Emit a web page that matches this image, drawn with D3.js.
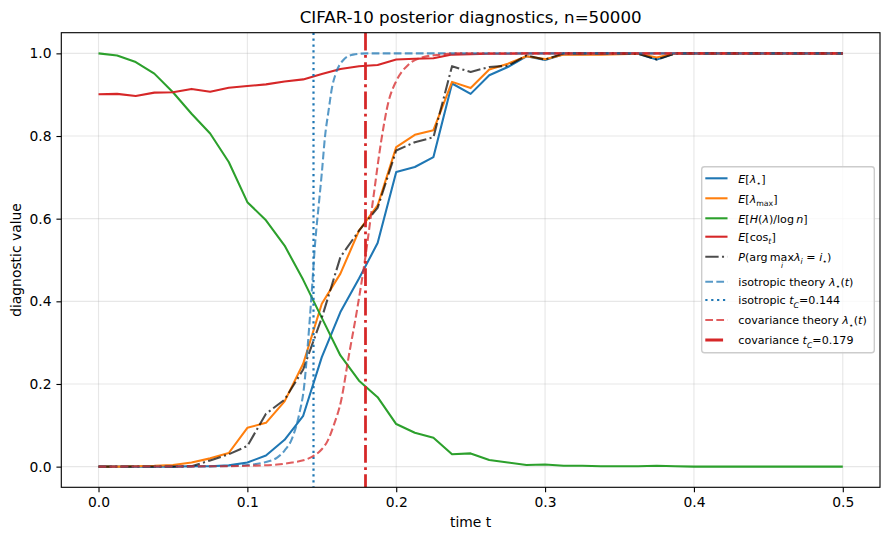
<!DOCTYPE html>
<html>
<head>
<meta charset="utf-8">
<script src="https://cdn.jsdelivr.net/npm/d3@7"></script>
<style>
  body { margin: 0; background: #fff; }
  svg { font-family: 'DejaVu Sans', sans-serif; display: block; }
</style>
</head>
<body>
<div id="chart"></div>
<script>
// sampled time grid
const times = [0, 0.0125, 0.025, 0.0375, 0.05, 0.0625, 0.075, 0.0875, 0.1, 0.1125,
  0.125, 0.1375, 0.15, 0.1625, 0.175, 0.1875, 0.2, 0.2125, 0.225, 0.2375,
  0.25, 0.2625, 0.275, 0.2875, 0.3, 0.3125, 0.325, 0.3375, 0.35, 0.3625,
  0.375, 0.3875, 0.4, 0.4125, 0.425, 0.4375, 0.45, 0.4625, 0.475, 0.4875, 0.5]

const lamStar = [0, 0, 0, 0, 0, 0.001, 0.001, 0.003, 0.01, 0.027,
  0.065, 0.123, 0.265, 0.374, 0.455, 0.541, 0.713, 0.725, 0.749, 0.927,
  0.902, 0.947, 0.967, 0.993, 0.984, 0.998, 0.998, 0.999, 0.999, 0.999,
  0.985, 1, 1, 1, 1, 1, 1, 1, 1, 1, 1]

const lamMax = [0, 0, 0.001, 0.002, 0.004, 0.01, 0.02, 0.033, 0.094, 0.106,
  0.158, 0.249, 0.394, 0.467, 0.571, 0.632, 0.773, 0.803, 0.814, 0.931,
  0.916, 0.961, 0.975, 0.993, 0.986, 0.997, 0.997, 0.997, 0.998, 0.999,
  0.99, 1, 1, 1, 1, 1, 1, 1, 1, 1, 1]

const entropyNorm = [1.0, 0.995, 0.979, 0.951, 0.906, 0.854, 0.806, 0.737, 0.64, 0.596,
  0.535, 0.452, 0.36, 0.269, 0.208, 0.168, 0.103, 0.082, 0.07, 0.03,
  0.032, 0.016, 0.01, 0.004, 0.005, 0.002, 0.002, 0.001, 0.001, 0.001,
  0.002, 0.001, 0, 0, 0, 0, 0, 0, 0, 0, 0]

const cosT = [0.901, 0.902, 0.897, 0.905, 0.906, 0.914, 0.907, 0.917, 0.921, 0.925,
  0.932, 0.937, 0.95, 0.962, 0.969, 0.972, 0.985, 0.987, 0.988, 0.997,
  0.998, 0.999, 0.999, 1, 1, 1, 1, 1, 1, 1,
  1, 1, 1, 1, 1, 1, 1, 1, 1, 1, 1]

const pArgmax = [0, 0, 0, 0, 0, 0.001, 0.015, 0.03, 0.05, 0.128,
  0.162, 0.235, 0.36, 0.507, 0.571, 0.626, 0.765, 0.785, 0.797, 0.969,
  0.955, 0.967, 0.97, 0.995, 0.985, 1, 1, 1, 1, 0.999,
  0.985, 1, 1, 1, 1, 1, 1, 1, 1, 1, 1]

// theory curves
const isoTheoryT = [0, 0.05, 0.08, 0.1, 0.11, 0.12, 0.125, 0.13, 0.135, 0.138,
  0.1405, 0.143, 0.1455, 0.148, 0.15, 0.1522, 0.1545, 0.157, 0.159, 0.1645,
  0.171, 0.18, 0.25, 0.5]
const isoTheoryV = [0, 0, 0.001, 0.004, 0.009, 0.022, 0.039, 0.068, 0.13, 0.19,
  0.29, 0.41, 0.54, 0.635, 0.71, 0.8, 0.86, 0.92, 0.947, 0.984,
  0.997, 1, 1, 1]

const covTheoryT = [0, 0.08, 0.1, 0.12, 0.13, 0.14, 0.145, 0.15, 0.154, 0.158,
  0.163, 0.168, 0.174, 0.179, 0.1846, 0.19, 0.1946, 0.2003, 0.208, 0.217,
  0.23, 0.24, 0.5]
const covTheoryV = [0, 0.001, 0.002, 0.005, 0.01, 0.018, 0.027, 0.042, 0.063, 0.1,
  0.16, 0.265, 0.386, 0.5, 0.65, 0.79, 0.88, 0.935, 0.972, 0.99,
  0.997, 1, 1]

const tcIso = 0.144
const tcCov = 0.179

const xTicks = [0, 0.1, 0.2, 0.3, 0.4, 0.5]
const yTicks = [0, 0.2, 0.4, 0.6, 0.8, 1.0]

const titleText = 'CIFAR-10 posterior diagnostics, n=50000'
const xLabel = 'time t'
const yLabel = 'diagnostic value'

// legend labels as mathtext-ish parts
const legendLabels = [
  [{ t: 'E', it: 1 }, { t: '[' }, { t: 'λ', it: 1 }, { t: '⋆', sub: 1 }, { t: ']' }],
  [{ t: 'E', it: 1 }, { t: '[' }, { t: 'λ', it: 1 }, { t: 'max', sub: 1 }, { t: ']' }],
  [{ t: 'E', it: 1 }, { t: '[' }, { t: 'H', it: 1 }, { t: '(' }, { t: 'λ', it: 1 }, { t: ')/log\u2009' }, { t: 'n', it: 1 }, { t: ']' }],
  [{ t: 'E', it: 1 }, { t: '[cos' }, { t: 't', it: 1, sub: 1 }, { t: ']' }],
  [{ t: 'P', it: 1 }, { t: '(arg\u2009' }, { t: 'max', under: 'i' }, { t: 'λ', it: 1 }, { t: 'i', it: 1, sub: 1 }, { t: ' = ' }, { t: 'i', it: 1 }, { t: '⋆', sub: 1 }, { t: ')' }],
  [{ t: 'isotropic theory ' }, { t: 'λ', it: 1 }, { t: '⋆', sub: 1 }, { t: '(' }, { t: 't', it: 1 }, { t: ')' }],
  [{ t: 'isotropic ' }, { t: 't', it: 1 }, { t: 'C', it: 1, sub: 1 }, { t: '=0.144' }],
  [{ t: 'covariance theory ' }, { t: 'λ', it: 1 }, { t: '⋆', sub: 1 }, { t: '(' }, { t: 't', it: 1 }, { t: ')' }],
  [{ t: 'covariance ' }, { t: 't', it: 1 }, { t: 'C', it: 1, sub: 1 }, { t: '=0.179' }]
]

const PT = 100 / 72

const CONFIG = {
  width: 889,
  height: 540,
  plot: { left: 61.3, right: 880, top: 32.7, bottom: 487.3 },
  legend: { x: 701.7, y: 166.7, w: 172.6, h: 186, rows: [178.3, 198.3, 218.3, 236.7, 256.7, 281.7, 300, 320, 340] }
}

class DiagnosticsChart {
  svg = null

  x = null

  y = null

  linesWrapper = null

  constructor (el = '#chart') {
    this.container = document.querySelector(el)
    this.setup()
  }

  setup () {
    this.createElement()
    this.createScales()
  }

  createElement () {
    this.svg = d3.select(this.container)
      .append('svg')
      .attr('width', CONFIG.width)
      .attr('height', CONFIG.height)

    const { left, right, top, bottom } = CONFIG.plot
    this.svg.append('defs')
      .append('clipPath').attr('id', 'plot-clip')
      .append('rect')
      .attr('x', left).attr('y', top)
      .attr('width', right - left).attr('height', bottom - top)
  }

  createScales () {
    const { left, right, top, bottom } = CONFIG.plot
    this.x = d3.scaleLinear().domain([-0.025, 0.525]).range([left, right])
    this.y = d3.scaleLinear().domain([-0.05, 1.05]).range([bottom, top])
  }

  series () {
    const zip = vals => times.map((t, i) => [t, vals[i]])
    const pair = (ts, vs) => ts.map((t, i) => [t, vs[i]])
    return [
      { data: zip(lamStar), color: '#1f77b4', width: 1.5 * PT },
      { data: zip(lamMax), color: '#ff7f0e', width: 1.5 * PT },
      { data: zip(entropyNorm), color: '#2ca02c', width: 1.5 * PT },
      { data: zip(cosT), color: '#d62728', width: 1.5 * PT },
      { data: zip(pArgmax), color: '#000', opacity: 0.7, width: 1.5 * PT, dash: [6.4, 1.6, 1, 1.6].map(d => d * 1.5 * PT) },
      { data: pair(isoTheoryT, isoTheoryV), color: '#1f77b4', opacity: 0.75, width: 1.5 * PT, dash: [3.7, 1.6].map(d => d * 1.5 * PT), smooth: true },
      { vline: tcIso, color: '#1f77b4', width: 1.6 * PT, dash: [1, 1.65].map(d => d * 1.6 * PT) },
      { data: pair(covTheoryT, covTheoryV), color: '#d62728', opacity: 0.75, width: 1.5 * PT, dash: [3.7, 1.6].map(d => d * 1.5 * PT), smooth: true },
      { vline: tcCov, color: '#d62728', width: 2 * PT, dash: [6.4, 1.6, 1, 1.6].map(d => d * 2 * PT) }
    ]
  }

  drawGrid () {
    const { left, right, top, bottom } = CONFIG.plot
    const g = this.svg.append('g').attr('class', 'grid')
      .attr('stroke', '#b0b0b0').attr('stroke-opacity', 0.3).attr('stroke-width', 0.8 * PT)
    g.selectAll('.gx').data(xTicks).enter().append('line')
      .attr('x1', d => this.x(d)).attr('x2', d => this.x(d))
      .attr('y1', top).attr('y2', bottom)
    g.selectAll('.gy').data(yTicks).enter().append('line')
      .attr('y1', d => this.y(d)).attr('y2', d => this.y(d))
      .attr('x1', left).attr('x2', right)
  }

  drawSeries () {
    const { top, bottom } = CONFIG.plot
    this.linesWrapper = this.svg.append('g').attr('clip-path', 'url(#plot-clip)')
    this.series().forEach(s => {
      let path
      if (s.vline !== undefined) {
        // snap like matplotlib so the pattern stays crisp
        const vx = Math.round(this.x(s.vline)) + 0.5
        path = this.linesWrapper.append('line')
          .attr('x1', vx).attr('x2', vx)
          .attr('y1', top).attr('y2', bottom)
      } else {
        const line = d3.line()
          .x(d => this.x(d[0]))
          .y(d => this.y(d[1]))
          .curve(s.smooth ? d3.curveMonotoneX : d3.curveLinear)
        path = this.linesWrapper.append('path').datum(s.data).attr('d', line)
      }
      path.attr('fill', 'none')
        .attr('stroke', s.color)
        .attr('stroke-width', s.width)
        .attr('stroke-opacity', s.opacity || 1)
        .attr('stroke-linejoin', 'round')
        .attr('stroke-dasharray', s.dash ? s.dash.join(',') : null)
    })
  }

  drawAxes () {
    const { left, right, top, bottom } = CONFIG.plot
    const tickLen = 3.5 * PT
    const fs = 10 * PT

    const xAxis = this.svg.append('g')
      .attr('transform', `translate(0,${bottom})`)
      .call(d3.axisBottom(this.x).tickValues(xTicks).tickFormat(d3.format('.1f'))
        .tickSize(tickLen).tickPadding(tickLen))
    const yAxis = this.svg.append('g')
      .attr('transform', `translate(${left},0)`)
      .call(d3.axisLeft(this.y).tickValues(yTicks).tickFormat(d3.format('.1f'))
        .tickSize(tickLen).tickPadding(tickLen))

    ;[xAxis, yAxis].forEach(ax => {
      ax.select('.domain').remove()
      ax.selectAll('line').attr('stroke', '#000').attr('stroke-width', 0.8 * PT)
      ax.selectAll('text').attr('font-size', fs).attr('fill', '#000')
        .attr('font-family', "'DejaVu Sans', sans-serif")
    })

    this.svg.append('rect')
      .attr('x', left).attr('y', top)
      .attr('width', right - left).attr('height', bottom - top)
      .attr('fill', 'none').attr('stroke', '#000').attr('stroke-width', 0.8 * PT)

    this.svg.append('text')
      .attr('x', (left + right) / 2).attr('y', 23)
      .attr('text-anchor', 'middle').attr('font-size', 12 * PT)
      .text(titleText)

    this.svg.append('text')
      .attr('x', (left + right) / 2).attr('y', 527)
      .attr('text-anchor', 'middle').attr('font-size', fs)
      .text(xLabel)

    this.svg.append('text')
      .attr('transform', `translate(21,${(top + bottom) / 2}) rotate(-90)`)
      .attr('text-anchor', 'middle').attr('font-size', fs)
      .text(yLabel)
  }

  richText (g, x, y, parts, fs) {
    const text = g.append('text').attr('x', x).attr('y', y).attr('font-size', fs)
    let shift = 0
    const unders = []
    parts.forEach(p => {
      const target = p.sub ? 0.3 * fs : 0
      const span = text.append('tspan')
        .attr('dy', target - shift)
        .attr('font-size', p.sub ? fs * 0.7 : fs)
        .attr('font-style', p.it ? 'italic' : null)
        .text(p.t)
      shift = target
      if (p.under) unders.push({ span, label: p.under })
    })
    unders.forEach(u => {
      const node = u.span.node()
      const n = node.getNumberOfChars()
      const x0 = node.getStartPositionOfChar(0).x
      const x1 = node.getEndPositionOfChar(n - 1).x
      g.append('text')
        .attr('x', (x0 + x1) / 2).attr('y', y + 0.66 * fs)
        .attr('text-anchor', 'middle')
        .attr('font-size', fs * 0.66).attr('font-style', 'italic')
        .text(u.label)
    })
  }

  drawLegend () {
    const { x, y, w, h, rows } = CONFIG.legend
    const fs = 8 * PT
    const g = this.svg.append('g').attr('class', 'legend')
    g.append('rect')
      .attr('x', x).attr('y', y).attr('width', w).attr('height', h)
      .attr('rx', 2.8).attr('ry', 2.8)
      .attr('fill', '#fff').attr('fill-opacity', 0.8)
      .attr('stroke', '#cccccc').attr('stroke-width', 1 * PT)

    this.series().forEach((s, i) => {
      const ry = rows[i]
      g.append('line')
        .attr('x1', x + 3.6).attr('x2', x + 3.6 + 16 * PT)
        .attr('y1', ry).attr('y2', ry)
        .attr('stroke', s.color)
        .attr('stroke-width', s.width)
        .attr('stroke-opacity', s.opacity || 1)
        .attr('stroke-dasharray', s.dash ? s.dash.join(',') : null)
      this.richText(g, x + 36.6, ry + 4.2, legendLabels[i], fs)
    })
  }

  render () {
    this.drawGrid()
    this.drawSeries()
    this.drawAxes()
    this.drawLegend()
  }
}

new DiagnosticsChart('#chart').render()
</script>
</body>
</html>
